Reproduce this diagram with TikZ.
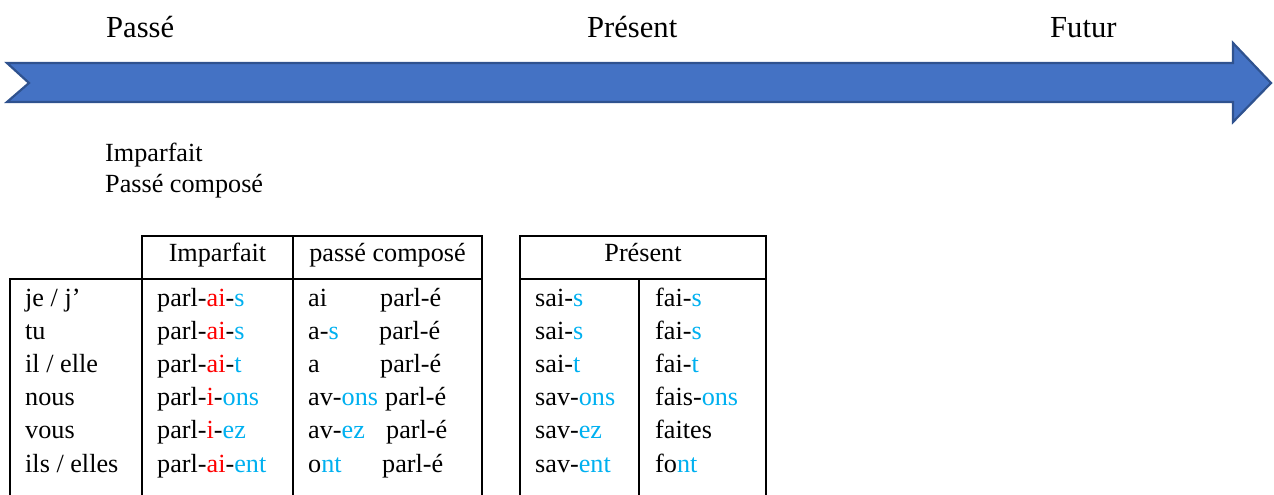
\documentclass[tikz,border=0pt]{standalone}
\usepackage{fontspec}
\setmainfont{Liberation Serif}
\definecolor{arrowfill}{HTML}{4472C4}
\definecolor{arrowline}{HTML}{2F528F}
\definecolor{endred}{HTML}{FF0000}
\definecolor{endblue}{HTML}{00B0F0}
\newcommand{\rd}[1]{\textcolor{endred}{#1}}
\newcommand{\bl}[1]{\textcolor{endblue}{#1}}
\tikzset{
  big/.style={anchor=base west,inner sep=0pt,font=\fontsize{30.6}{36}\selectfont},
  txt/.style={anchor=base west,inner sep=0pt,font=\fontsize{26.2}{31}\selectfont},
  hdr/.style={anchor=base,inner sep=0pt,font=\fontsize{26.2}{31}\selectfont},
  rule/.style={line width=1.4pt,black,line cap=rect},
  timeline/.style={fill=arrowfill,draw=arrowline,line width=2.2pt,line join=miter}
}
\begin{document}
\begin{tikzpicture}[x=1pt,y=-1pt]
\useasboundingbox (0,0) rectangle (1274,495);
% timeline arrow
\draw[timeline] (7,63) -- (1233,63) -- (1233,43) -- (1271,83) -- (1233,122) -- (1233,102) -- (7,102) -- (29,83) -- cycle;
\node[big] (passe) at (106,38) {Passé};
\node[big] (present) at (587,38) {Présent};
\node[big] (futur) at (1050,38) {Futur};
\node[txt] (limp) at (105,161) {Imparfait};
\node[txt] (lpc) at (105,192) {Passé composé};
% left table
\draw[rule] (142,236) -- (482,236);
\draw[rule] (10,279) -- (482,279);
\draw[rule] (10,279) -- (10,497);
\draw[rule] (142,236) -- (142,497);
\draw[rule] (293,236) -- (293,497);
\draw[rule] (482,236) -- (482,497);
\node[hdr] (himp) at (217.5,261) {Imparfait};
\node[hdr] (hpc) at (387.5,261) {passé composé};
% right table
\draw[rule] (520,236) -- (766,236);
\draw[rule] (520,279) -- (766,279);
\draw[rule] (520,236) -- (520,497);
\draw[rule] (766,236) -- (766,497);
\draw[rule] (639,279) -- (639,497);
\node[hdr] (hpr) at (643,261) {Présent};
% pronouns
\node[txt] (p1) at (25,306) {je / j’};
\node[txt] (p2) at (25,339.2) {tu};
\node[txt] (p3) at (25,372.4) {il / elle};
\node[txt] (p4) at (25,405.6) {nous};
\node[txt] (p5) at (25,438.8) {vous};
\node[txt] (p6) at (25,472) {ils / elles};
% imparfait
\node[txt] (i1) at (157,306) {parl-\rd{ai}-\bl{s}};
\node[txt] (i2) at (157,339.2) {parl-\rd{ai}-\bl{s}};
\node[txt] (i3) at (157,372.4) {parl-\rd{ai}-\bl{t}};
\node[txt] (i4) at (157,405.6) {parl-\rd{i}-\bl{ons}};
\node[txt] (i5) at (157,438.8) {parl-\rd{i}-\bl{ez}};
\node[txt] (i6) at (157,472) {parl-\rd{ai}-\bl{ent}};
% passé composé
\node[txt] (a1) at (308,306) {ai};
\node[txt] (a2) at (308,339.2) {a-\bl{s}};
\node[txt] (a3) at (308,372.4) {a};
\node[txt] (a4) at (308,405.6) {av-\bl{ons}};
\node[txt] (a5) at (308,438.8) {av-\bl{ez}};
\node[txt] (a6) at (308,472) {o\bl{nt}};
\node[txt] (q1) at (380,306) {parl-é};
\node[txt] (q2) at (379,339.2) {parl-é};
\node[txt] (q3) at (380,372.4) {parl-é};
\node[txt] (q4) at (385,405.6) {parl-é};
\node[txt] (q5) at (386,438.8) {parl-é};
\node[txt] (q6) at (382,472) {parl-é};
% présent: savoir
\node[txt] (s1) at (535,306) {sai-\bl{s}};
\node[txt] (s2) at (535,339.2) {sai-\bl{s}};
\node[txt] (s3) at (535,372.4) {sai-\bl{t}};
\node[txt] (s4) at (535,405.6) {sav-\bl{ons}};
\node[txt] (s5) at (535,438.8) {sav-\bl{ez}};
\node[txt] (s6) at (535,472) {sav-\bl{ent}};
% présent: faire
\node[txt] (f1) at (655,306) {fai-\bl{s}};
\node[txt] (f2) at (655,339.2) {fai-\bl{s}};
\node[txt] (f3) at (655,372.4) {fai-\bl{t}};
\node[txt] (f4) at (655,405.6) {fais-\bl{ons}};
\node[txt] (f5) at (655,438.8) {faites};
\node[txt] (f6) at (655,472) {fo\bl{nt}};
\end{tikzpicture}
\end{document}
